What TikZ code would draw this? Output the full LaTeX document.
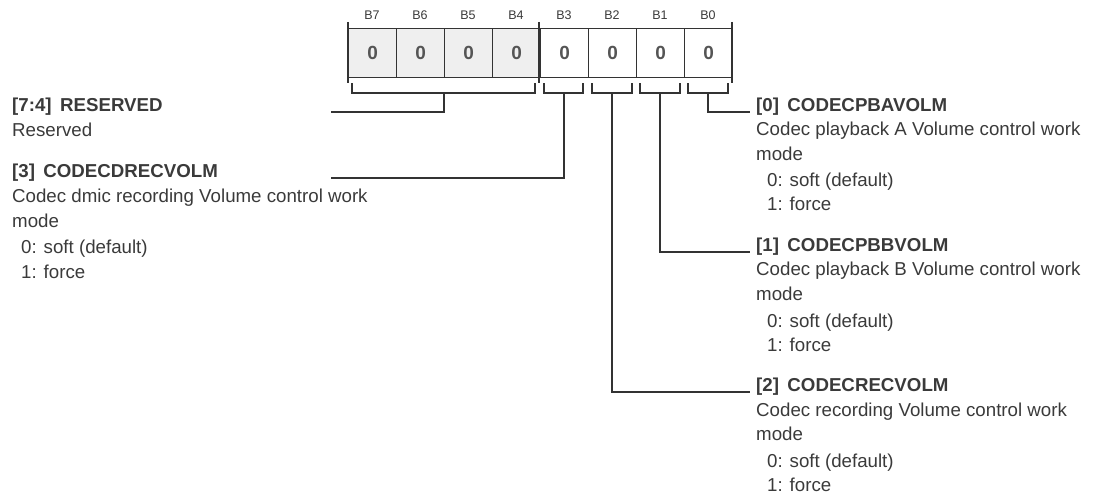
\documentclass[tikz,border=0pt]{standalone}
\usepackage{fontspec}
\setmainfont{Liberation Sans}
\definecolor{txt}{HTML}{3A3A3A}
\definecolor{ln}{HTML}{333333}
\definecolor{cellgray}{HTML}{EFEFEF}
\definecolor{digit}{HTML}{555555}
\begin{document}
\begin{tikzpicture}[x=1pt,y=-1pt,
  cell/.style={draw=ln, line width=1.3pt, minimum width=48pt, minimum height=49pt,
    inner sep=0pt, anchor=north west, text=digit,
    font=\fontsize{19}{19}\selectfont\bfseries},
  bitlbl/.style={anchor=base, inner sep=0pt, text=txt,
    font=\fontsize{12.5}{12.5}\selectfont},
  ttl/.style={anchor=base west, inner sep=0pt, text=txt,
    font=\fontsize{18.7}{25}\selectfont\bfseries},
  desc/.style={anchor=base west, inner sep=0pt, text=txt,
    font=\fontsize{18.7}{25}\selectfont},
  conn/.style={draw=ln, line width=1.4pt},
]
\useasboundingbox (0,0) rectangle (1099,495);

% register cells
\foreach \i/\b in {0/7,1/6,2/5,3/4}{
  \node[cell, fill=cellgray] (c\b) at (348+48*\i,28) {0};
  \node[bitlbl] (l\b) at (372+48*\i,20) {B\b};
}
\foreach \i/\b in {4/3,5/2,6/1,7/0}{
  \node[cell, fill=white] (c\b) at (348+48*\i,28) {0};
  \node[bitlbl] (l\b) at (372+48*\i,20) {B\b};
}

% field boundary ticks
\draw[conn] (348,22) -- (348,83);
\draw[conn] (539,22) -- (539,83);
\draw[conn] (732,22) -- (732,83);

% brackets
\draw[conn] (352,83) -- (352,93) -- (535,93) -- (535,83);
\draw[conn] (544,83) -- (544,93) -- (583,93) -- (583,83);
\draw[conn] (592,83) -- (592,93) -- (632,93) -- (632,83);
\draw[conn] (640,83) -- (640,93) -- (680,93) -- (680,83);
\draw[conn] (688,83) -- (688,93) -- (728,93) -- (728,83);
\coordinate (s74) at (444,93);
\coordinate (s3) at (564,93);
\coordinate (s2) at (612,93);
\coordinate (s1) at (660,93);
\coordinate (s0) at (708,93);

% left texts
\node[ttl] (t74) at (12,111) {[7:4]\hspace{0.45em}RESERVED};
\node[desc] (d74) at (12,136) {Reserved};
\node[ttl] (t3) at (12,177) {[3]\hspace{0.45em}CODECDRECVOLM};
\node[desc] (d3a) at (12,202) {Codec dmic recording Volume control work};
\node[desc] (d3b) at (12,227) {mode};
\node[desc] (d3c) at (21,253) {0: soft (default)};
\node[desc] (d3d) at (21,278) {1: force};

% right texts
\node[ttl] (t0) at (756,111) {[0]\hspace{0.45em}CODECPBAVOLM};
\node[desc] (d0a) at (756,135.5) {Codec playback A Volume control work};
\node[desc] (d0b) at (756,160) {mode};
\node[desc] (d0c) at (767,186) {0: soft (default)};
\node[desc] (d0d) at (767,210.5) {1: force};

\node[ttl] (t1) at (756,251) {[1]\hspace{0.45em}CODECPBBVOLM};
\node[desc] (d1a) at (756,275) {Codec playback B Volume control work};
\node[desc] (d1b) at (756,300) {mode};
\node[desc] (d1c) at (767,327) {0: soft (default)};
\node[desc] (d1d) at (767,351) {1: force};

\node[ttl] (t2) at (756,391) {[2]\hspace{0.45em}CODECRECVOLM};
\node[desc] (d2a) at (756,416) {Codec recording Volume control work};
\node[desc] (d2b) at (756,440) {mode};
\node[desc] (d2c) at (767,467) {0: soft (default)};
\node[desc] (d2d) at (767,491) {1: force};

% connectors
\coordinate (e74) at (331,112);
\coordinate (e3) at (331,178);
\draw[conn] (s74) |- (e74);
\draw[conn] (s3) |- (e3);
\draw[conn] (s0) |- ([xshift=-6pt,yshift=-1pt]t0.base west);
\draw[conn] (s1) |- ([xshift=-6pt,yshift=-1pt]t1.base west);
\draw[conn] (s2) |- ([xshift=-6pt,yshift=-1pt]t2.base west);
\end{tikzpicture}
\end{document}
